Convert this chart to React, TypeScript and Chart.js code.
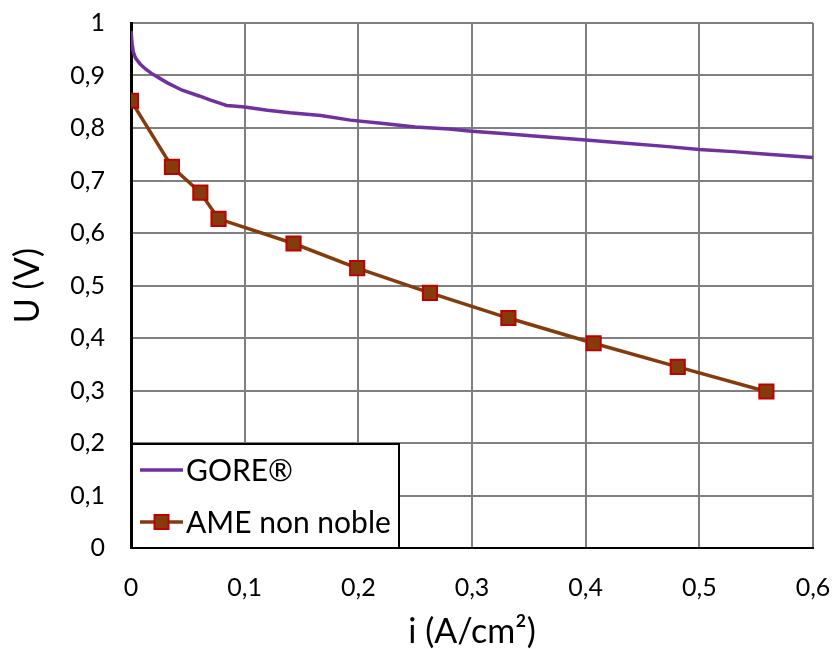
import React, { useEffect, useRef } from "react";
import { Chart, registerables } from "chart.js";

Chart.register(...registerables);

// GORE® polarisation curve (current density A/cm², voltage V)
const goreI = [0, 0.001, 0.002, 0.004, 0.008, 0.013, 0.018, 0.025, 0.032, 0.045, 0.06, 0.07, 0.08, 0.084, 0.09, 0.1, 0.12, 0.14, 0.167, 0.193, 0.22, 0.25, 0.28, 0.3, 0.33, 0.36, 0.4, 0.43, 0.47, 0.5, 0.53, 0.56, 0.6];
const goreU = [0.985, 0.96, 0.945, 0.933, 0.922, 0.912, 0.904, 0.895, 0.886, 0.872, 0.861, 0.853, 0.846, 0.843, 0.842, 0.84, 0.834, 0.829, 0.824, 0.815, 0.809, 0.802, 0.798, 0.794, 0.789, 0.784, 0.777, 0.772, 0.765, 0.759, 0.755, 0.75, 0.744];

// AME non noble
const ameI = [0, 0.036, 0.061, 0.077, 0.143, 0.199, 0.263, 0.332, 0.407, 0.481, 0.559];
const ameU = [0.852, 0.726, 0.677, 0.627, 0.58, 0.533, 0.486, 0.438, 0.39, 0.345, 0.298];

const seriesNames = ["GORE®", "AME non noble"];
const xTitle = "i (A/cm²)";
const yTitle = "U (V)";

const FONT = "Lato, 'Open Sans', sans-serif";

const fmt = (v: number) => String(Number(v.toFixed(1))).replace(".", ",");

const boxLegend = {
  id: "boxLegend",
  afterDraw(chart: any) {
    const ctx = chart.ctx;
    const area = chart.chartArea;
    const x0 = area.left + 1;
    const y1 = area.bottom;
    const w = 267;
    const h = 104;
    const y0 = y1 - h;
    ctx.save();
    ctx.fillStyle = "#ffffff";
    ctx.fillRect(x0, y0, w, h);
    ctx.strokeStyle = "#000000";
    ctx.lineWidth = 2;
    ctx.strokeRect(x0, y0, w, h);
    ctx.font = `30px ${FONT}`;
    ctx.textBaseline = "middle";
    ctx.textAlign = "left";
    const rows = [y0 + 26, y0 + 78];
    chart.data.datasets.forEach((ds: any, i: number) => {
      const y = rows[i];
      ctx.strokeStyle = ds.borderColor;
      ctx.lineWidth = ds.borderWidth;
      ctx.beginPath();
      ctx.moveTo(x0 + 8, y);
      ctx.lineTo(x0 + 51, y);
      ctx.stroke();
      if (ds.pointRadius > 0) {
        const s = 14;
        ctx.fillStyle = ds.pointBackgroundColor;
        ctx.strokeStyle = ds.pointBorderColor;
        ctx.lineWidth = ds.pointBorderWidth;
        ctx.fillRect(x0 + 29.5 - s / 2, y - s / 2, s, s);
        ctx.strokeRect(x0 + 29.5 - s / 2, y - s / 2, s, s);
      }
      ctx.fillStyle = "#000000";
      ctx.fillText(ds.label, x0 + 54, y + 1);
    });
    ctx.restore();
  },
};

export default function App() {
  const ref = useRef<HTMLCanvasElement | null>(null);
  useEffect(() => {
    if (!ref.current) return;
    const chart = new Chart(ref.current, {
      type: "scatter",
      data: {
        datasets: [
          {
            label: seriesNames[0],
            data: goreI.map((x, i) => ({ x, y: goreU[i] })),
            showLine: true,
            borderColor: "#7030A0",
            backgroundColor: "#7030A0",
            borderWidth: 3.5,
            pointRadius: 0,
            tension: 0,
          },
          {
            label: seriesNames[1],
            data: ameI.map((x, i) => ({ x, y: ameU[i] })),
            showLine: true,
            borderColor: "#843C0C",
            backgroundColor: "#843C0C",
            borderWidth: 3.5,
            pointStyle: "rect",
            pointRadius: 10,
            pointBackgroundColor: "#843C0C",
            pointBorderColor: "#C00000",
            pointBorderWidth: 2,
            tension: 0,
          },
        ],
      },
      options: {
        responsive: false,
        animation: false,
        layout: { padding: { top: 23, right: 20, left: 0, bottom: 0 } },
        plugins: { legend: { display: false }, tooltip: { enabled: false } },
        scales: {
          x: {
            type: "linear",
            min: 0,
            max: 0.6,
            afterFit: (s: any) => {
              s.height = 101;
              s.paddingLeft = 0;
              s.paddingRight = 0;
            },
            ticks: {
              stepSize: 0.1,
              color: "#000000",
              font: { family: FONT, size: 25 },
              padding: 25,
              maxRotation: 0,
              callback: (v: any) => fmt(Number(v)),
            },
            grid: { color: "#808080", lineWidth: 2, drawTicks: false },
            border: { color: "#000000", width: 2 },
            title: {
              display: true,
              text: xTitle,
              color: "#000000",
              font: { family: FONT, size: 34, lineHeight: 1 },
              padding: { top: 0, bottom: 0 },
            },
          },
          y: {
            type: "linear",
            min: 0,
            max: 1,
            afterFit: (s: any) => {
              s.width = 131;
              s.paddingTop = 0;
              s.paddingBottom = 0;
            },
            ticks: {
              stepSize: 0.1,
              color: "#000000",
              font: { family: FONT, size: 25 },
              padding: 26,
              callback: (v: any) => fmt(Number(v)),
            },
            grid: { color: "#808080", lineWidth: 2, drawTicks: false },
            border: { color: "#000000", width: 3 },
            title: {
              display: true,
              text: yTitle,
              color: "#000000",
              font: { family: FONT, size: 34, lineHeight: 1 },
              padding: { top: 11, bottom: 0 },
            },
          },
        },
      },
      plugins: [boxLegend],
    });
    return () => chart.destroy();
  }, []);
  return (
    <div style={{ position: "absolute", left: 0, top: 0, width: 833, height: 649, background: "#fff" }}>
      <canvas ref={ref} width={833} height={649} />
    </div>
  );
}
